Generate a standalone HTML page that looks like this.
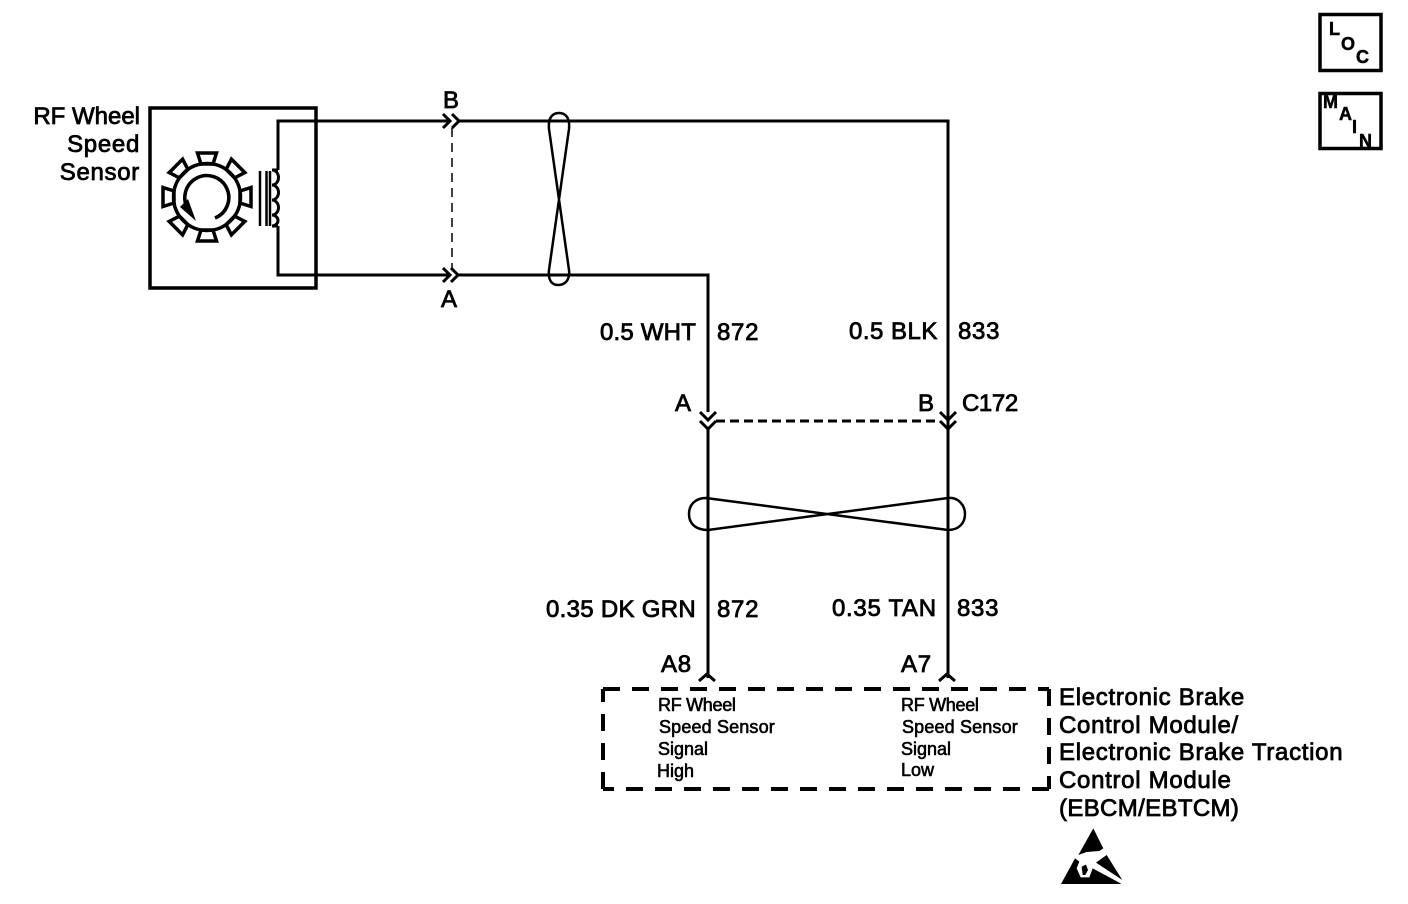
<!DOCTYPE html>
<html><head><meta charset="utf-8"><style>
html,body{margin:0;padding:0;background:#fff;width:1408px;height:904px;overflow:hidden}
svg{display:block}
text{font-family:"Liberation Sans",sans-serif;font-size:24px;fill:#000;stroke:#000;stroke-width:.8px}
.s{font-size:18px;stroke-width:.6px}
.m{font-size:18px;font-weight:bold;stroke-width:.5px}
.l{letter-spacing:.7px}
.w{fill:none;stroke:#000;stroke-width:3}
.g{fill:none;stroke:#000;stroke-width:3.500}
.t{fill:none;stroke:#000;stroke-width:2.500}
</style></head><body>
<svg width="1408" height="904" viewBox="0 0 1408 904" xmlns="http://www.w3.org/2000/svg">
<!-- sensor box -->
<rect x="150" y="108" width="166" height="180" fill="none" stroke="#000" stroke-width="3.500"/>
<path class="w" d="M449 121H278V170M278 226V275H449"/>
<path class="w" d="M278 170H272A6.500 7.500 0 0 1 272 185A6.500 7.500 0 0 1 272 200A6.500 7.500 0 0 1 272 215A6 5.500 0 0 1 272 226H278"/>
<path d="M260 171V226M266.500 171V226M270 171V226" fill="none" stroke="#000" stroke-width="2.500"/>
<!-- gear -->
<circle cx="207" cy="197" r="33.500" class="g"/>
<g class="g">
<path d="M197.500 153H216.500L213 164H201Z"/>
<path transform="rotate(45 207 197)" d="M197.500 153H216.500L213 164H201Z"/>
<path transform="rotate(90 207 197)" d="M197.500 153H216.500L213 164H201Z"/>
<path transform="rotate(135 207 197)" d="M197.500 153H216.500L213 164H201Z"/>
<path transform="rotate(180 207 197)" d="M197.500 153H216.500L213 164H201Z"/>
<path transform="rotate(225 207 197)" d="M197.500 153H216.500L213 164H201Z"/>
<path transform="rotate(270 207 197)" d="M197.500 153H216.500L213 164H201Z"/>
<path transform="rotate(315 207 197)" d="M197.500 153H216.500L213 164H201Z"/>
</g>
<path class="g" d="M215 218A22 22 0 1 0 188 209"/>
<polygon points="180,207 196,221 188,199" fill="#000"/>
<!-- top wire + connector -->
<path class="w" d="M443 114L450 121L443 128M452 114L459 121L452 128M459 121H948V678"/>
<path class="w" d="M443 268L450 275L443 282M451 268L458 275L451 282M458 275H708V412"/>
<path d="M452 128V270" fill="none" stroke="#000" stroke-width="1.500" stroke-dasharray="9 6"/>
<!-- twist top -->
<path class="t" d="M549 129C548 118 552 113 559 113C566 113 570 118 569 129L549 270C548 279 551 285 558 285C566 285 570 279 569 270L549 129Z"/>
<!-- C172 -->
<path class="w" d="M700 412L708 420L716 412M700 421L708 429L716 421M940 412L948 420L956 412M940 421L948 429L956 421"/>
<path d="M716 421H940" fill="none" stroke="#000" stroke-width="3" stroke-dasharray="9 5"/>
<path class="w" d="M708 428V678"/>
<path class="w" d="M948 428V678"/>
<path class="t" d="M706 498C695 498 689 505 689 514C689 524 696 530 708 530L948 498C958 497 965 505 965 514C965 524 958 530 948 530L706 498Z"/>
<!-- pins -->
<path class="w" d="M699 681L707 674L715 681M939 681L947 674L955 681"/>
<!-- dashed box -->
<path d="M603 689H1049M1049 689V789M1049 789H603M603 789V689" fill="none" stroke="#000" stroke-width="4" stroke-dasharray="17 12"/>
<!-- labels -->
<text x="140" y="124" text-anchor="end">RF Wheel</text>
<text class="l" x="140" y="152" text-anchor="end">Speed</text>
<text class="l" x="140" y="180" text-anchor="end">Sensor</text>
<text x="443" y="108">B</text>
<text x="441" y="307">A</text>
<text x="600" y="340" style="letter-spacing:.2px">0.5 WHT</text>
<text class="l" x="717" y="340">872</text>
<text x="849" y="339" style="letter-spacing:.5px">0.5 BLK</text>
<text class="l" x="958" y="339">833</text>
<text x="675" y="411">A</text>
<text x="918" y="411">B</text>
<text x="962" y="411" style="letter-spacing:-.4px">C172</text>
<text x="546" y="617" style="letter-spacing:.3px">0.35 DK GRN</text>
<text class="l" x="717" y="617">872</text>
<text class="l" x="832" y="616">0.35 TAN</text>
<text class="l" x="957" y="616">833</text>
<text class="l" x="661" y="672">A8</text>
<text class="l" x="901" y="672">A7</text>
<text class="s" x="658" y="711" style="letter-spacing:-.3px">RF Wheel</text>
<text class="s" x="659" y="733" style="letter-spacing:.15px">Speed Sensor</text>
<text class="s" x="658" y="755">Signal</text>
<text class="s" x="657" y="777">High</text>
<text class="s" x="901" y="711" style="letter-spacing:-.3px">RF Wheel</text>
<text class="s" x="902" y="733" style="letter-spacing:.15px">Speed Sensor</text>
<text class="s" x="901" y="755">Signal</text>
<text class="s" x="901" y="776">Low</text>
<text class="l" x="1059" y="705">Electronic Brake</text>
<text class="l" x="1059" y="733">Control Module/</text>
<text class="l" x="1059" y="760">Electronic Brake Traction</text>
<text class="l" x="1059" y="788">Control Module</text>
<text x="1059" y="816" style="letter-spacing:.35px">(EBCM/EBTCM)</text>
<!-- LOC / MAIN -->
<rect x="1320" y="14.500" width="61" height="56" fill="none" stroke="#000" stroke-width="3.500"/>
<rect x="1320" y="93.500" width="61" height="55" fill="none" stroke="#000" stroke-width="3.500"/>
<text class="m" x="1329" y="35">L</text>
<text class="m" x="1341" y="50">O</text>
<text class="m" x="1356" y="63">C</text>
<text class="m" x="1323" y="108">M</text>
<text class="m" x="1339" y="120">A</text>
<text class="m" x="1352" y="133">I</text>
<text class="m" x="1359" y="147">N</text>
<!-- ESD symbol -->
<g transform="translate(1050 820) scale(.3333)">
<path fill="#000" d="M130 25L160 85L148 93L110 96L85 105Z"/>
<path fill="#000" d="M170 105L217 180L138 128Z"/>
<path fill="#000" d="M75 115L88 125L80 145L92 172L118 172L128 145L212 190V192H33Z"/>
<path fill="#000" d="M95 140L108 134L114 150L106 165L98 165Z"/>
</g>
</svg>
</body></html>
